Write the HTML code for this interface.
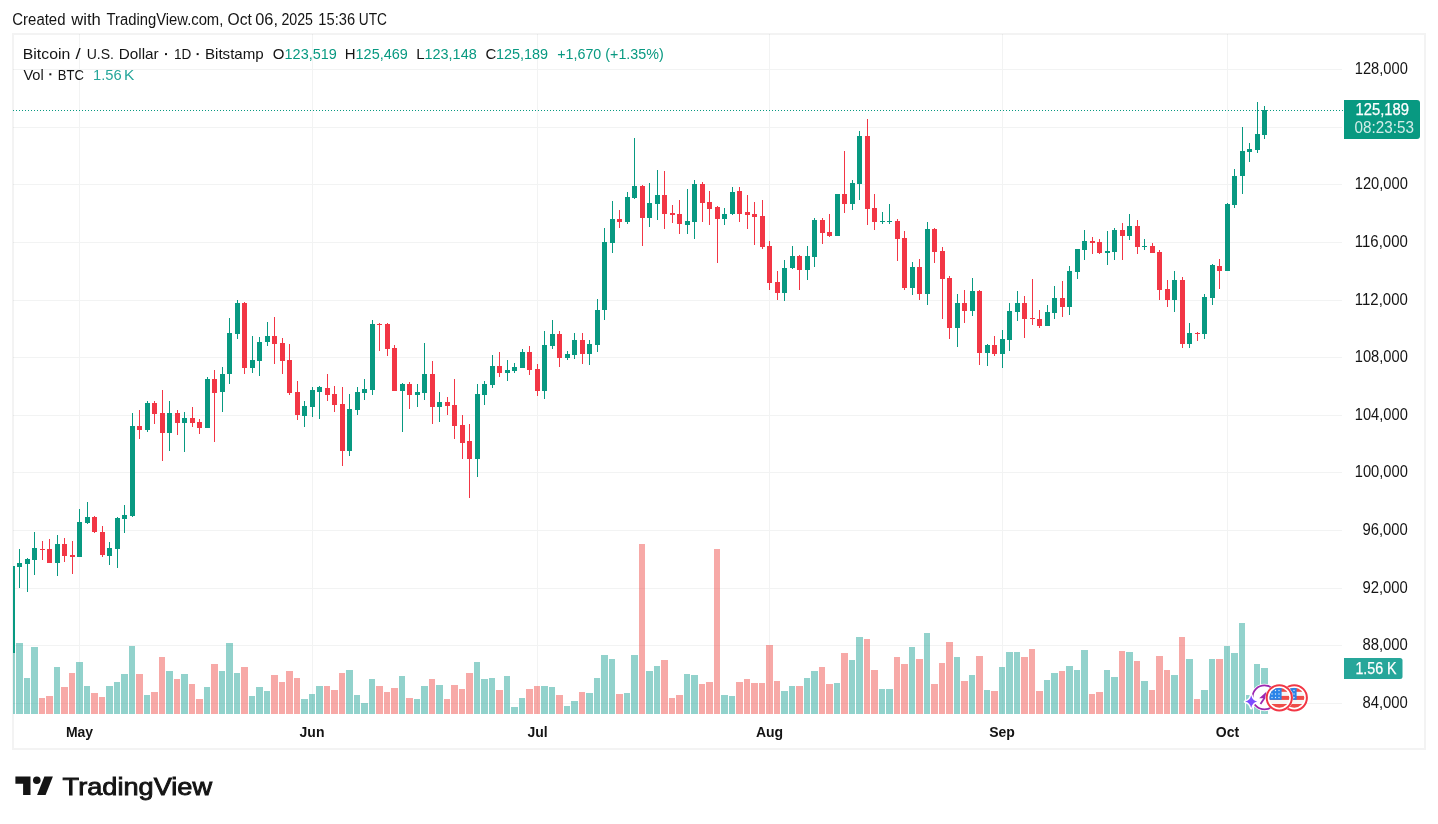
<!DOCTYPE html>
<html><head><meta charset="utf-8"><style>
html,body{margin:0;padding:0;background:#fff;}
body{width:1438px;height:824px;overflow:hidden;position:relative;font-family:"Liberation Sans", sans-serif;}
</style></head><body>
<svg width="1438" height="824" viewBox="0 0 1438 824" style="position:absolute;left:0;top:0" shape-rendering="crispEdges">
<defs><clipPath id="cp"><rect x="13" y="34" width="1329" height="680"/></clipPath></defs>
<rect x="13" y="34" width="1412" height="715" fill="none" stroke="#f3f3f3" stroke-width="2"/>
<path d="M13 69.5H1342M13 127.5H1342M13 184.5H1342M13 242.5H1342M13 300.5H1342M13 357.5H1342M13 415.5H1342M13 472.5H1342M13 530.5H1342M13 588.5H1342M13 645.5H1342M13 703.5H1342M79.5 34V714M312.5 34V714M537.5 34V714M769.5 34V714M1002.5 34V714M1227.5 34V714" stroke="rgba(42,46,57,0.06)" stroke-width="1" fill="none"/>
<g clip-path="url(#cp)">
<path d="M9 653H15V714H9ZM16 643H23V714H16ZM24 678H30V714H24ZM31 647H38V714H31ZM54 667H60V714H54ZM76 662H83V714H76ZM84 686H90V714H84ZM106 686H113V714H106ZM114 682H120V714H114ZM121 674H128V714H121ZM129 646H135V714H129ZM144 695H150V714H144ZM166 671H173V714H166ZM181 674H188V714H181ZM204 687H210V714H204ZM219 671H225V714H219ZM226 643H233V714H226ZM234 673H240V714H234ZM249 696H255V714H249ZM256 687H263V714H256ZM264 691H270V714H264ZM301 699H308V714H301ZM309 694H315V714H309ZM316 686H323V714H316ZM346 670H353V714H346ZM354 695H360V714H354ZM361 703H368V714H361ZM369 679H375V714H369ZM399 676H405V714H399ZM414 699H420V714H414ZM421 686H428V714H421ZM436 685H443V714H436ZM474 662H480V714H474ZM481 679H488V714H481ZM489 678H495V714H489ZM504 676H510V714H504ZM511 707H518V714H511ZM519 698H525V714H519ZM541 686H548V714H541ZM549 687H555V714H549ZM564 706H570V714H564ZM571 701H578V714H571ZM586 693H593V714H586ZM594 678H600V714H594ZM601 655H608V714H601ZM609 659H615V714H609ZM624 693H630V714H624ZM631 655H638V714H631ZM646 671H653V714H646ZM654 666H660V714H654ZM684 674H690V714H684ZM691 675H698V714H691ZM721 695H728V714H721ZM729 696H735V714H729ZM781 691H788V714H781ZM789 686H795V714H789ZM804 678H810V714H804ZM811 671H818V714H811ZM834 683H840V714H834ZM849 660H855V714H849ZM856 637H863V714H856ZM879 689H885V714H879ZM886 689H893V714H886ZM909 647H915V714H909ZM924 633H930V714H924ZM954 657H960V714H954ZM969 675H975V714H969ZM984 690H990V714H984ZM999 667H1005V714H999ZM1006 652H1013V714H1006ZM1014 652H1020V714H1014ZM1044 680H1050V714H1044ZM1051 673H1058V714H1051ZM1066 666H1073V714H1066ZM1074 670H1080V714H1074ZM1081 650H1088V714H1081ZM1104 670H1110V714H1104ZM1111 677H1118V714H1111ZM1126 652H1133V714H1126ZM1141 681H1148V714H1141ZM1171 675H1178V714H1171ZM1186 659H1193V714H1186ZM1201 690H1208V714H1201ZM1209 659H1215V714H1209ZM1224 646H1230V714H1224ZM1231 653H1238V714H1231ZM1239 623H1245V714H1239ZM1246 695H1253V714H1246ZM1254 664H1260V714H1254ZM1261 668H1268V714H1261Z" fill="rgba(38,166,154,0.5)"/>
<path d="M39 698H45V714H39ZM46 696H53V714H46ZM61 687H68V714H61ZM69 673H75V714H69ZM91 693H98V714H91ZM99 697H105V714H99ZM136 674H143V714H136ZM151 692H158V714H151ZM159 657H165V714H159ZM174 679H180V714H174ZM189 684H195V714H189ZM196 699H203V714H196ZM211 664H218V714H211ZM241 667H248V714H241ZM271 675H278V714H271ZM279 682H285V714H279ZM286 671H293V714H286ZM294 678H300V714H294ZM324 686H330V714H324ZM331 690H338V714H331ZM339 673H345V714H339ZM376 686H383V714H376ZM384 692H390V714H384ZM391 688H398V714H391ZM406 698H413V714H406ZM429 679H435V714H429ZM444 699H450V714H444ZM451 685H458V714H451ZM459 689H465V714H459ZM466 673H473V714H466ZM496 690H503V714H496ZM526 689H533V714H526ZM534 686H540V714H534ZM556 695H563V714H556ZM579 692H585V714H579ZM616 694H623V714H616ZM639 544H645V714H639ZM661 660H668V714H661ZM669 698H675V714H669ZM676 695H683V714H676ZM699 684H705V714H699ZM706 682H713V714H706ZM714 549H720V714H714ZM736 682H743V714H736ZM744 679H750V714H744ZM751 683H758V714H751ZM759 683H765V714H759ZM766 645H773V714H766ZM774 681H780V714H774ZM796 686H803V714H796ZM819 667H825V714H819ZM826 684H833V714H826ZM841 653H848V714H841ZM864 639H870V714H864ZM871 670H878V714H871ZM894 657H900V714H894ZM901 664H908V714H901ZM916 659H923V714H916ZM931 684H938V714H931ZM939 663H945V714H939ZM946 642H953V714H946ZM961 681H968V714H961ZM976 656H983V714H976ZM991 691H998V714H991ZM1021 657H1028V714H1021ZM1029 649H1035V714H1029ZM1036 691H1043V714H1036ZM1059 671H1065V714H1059ZM1089 694H1095V714H1089ZM1096 692H1103V714H1096ZM1119 651H1125V714H1119ZM1134 661H1140V714H1134ZM1149 690H1155V714H1149ZM1156 656H1163V714H1156ZM1164 670H1170V714H1164ZM1179 637H1185V714H1179ZM1194 699H1200V714H1194ZM1216 659H1223V714H1216Z" fill="rgba(239,83,80,0.5)"/>
<path d="M10 566H15V653H10ZM17 563H22V567H17ZM19 549H20V563H19ZM19 567H20V588H19ZM25 559H30V564H25ZM27 558H28V559H27ZM27 564H28V592H27ZM32 548H37V560H32ZM34 532H35V548H34ZM34 560H35V575H34ZM55 544H60V563H55ZM57 535H58V544H57ZM57 563H58V576H57ZM77 522H82V557H77ZM79 509H80V522H79ZM85 517H90V523H85ZM87 502H88V517H87ZM87 523H88V524H87ZM107 548H112V556H107ZM109 542H110V548H109ZM109 556H110V565H109ZM115 518H120V549H115ZM117 517H118V518H117ZM117 549H118V568H117ZM122 515H127V519H122ZM124 505H125V515H124ZM124 519H125V533H124ZM130 426H135V516H130ZM132 413H133V426H132ZM132 516H133V517H132ZM145 403H150V430H145ZM147 401H148V403H147ZM147 430H148V432H147ZM167 413H172V433H167ZM169 401H170V413H169ZM169 433H170V451H169ZM182 418H187V423H182ZM184 412H185V418H184ZM184 423H185V452H184ZM205 379H210V428H205ZM207 377H208V379H207ZM220 374H225V392H220ZM222 367H223V374H222ZM222 392H223V412H222ZM227 333H232V374H227ZM229 318H230V333H229ZM229 374H230V384H229ZM235 303H240V334H235ZM237 300H238V303H237ZM237 334H238V339H237ZM250 360H255V368H250ZM252 336H253V360H252ZM252 368H253V373H252ZM257 342H262V361H257ZM259 337H260V342H259ZM259 361H260V376H259ZM265 336H270V342H265ZM267 322H268V336H267ZM267 342H268V346H267ZM302 406H307V416H302ZM304 401H305V406H304ZM304 416H305V427H304ZM310 390H315V407H310ZM312 387H313V390H312ZM312 407H313V417H312ZM317 387H322V392H317ZM319 386H320V387H319ZM319 392H320V419H319ZM347 409H352V451H347ZM349 394H350V409H349ZM349 451H350V456H349ZM355 392H360V410H355ZM357 387H358V392H357ZM357 410H358V415H357ZM362 389H367V393H362ZM364 379H365V389H364ZM364 393H365V400H364ZM370 324H375V390H370ZM372 320H373V324H372ZM372 390H373V395H372ZM400 384H405V391H400ZM402 383H403V384H402ZM402 391H403V432H402ZM415 392H420V395H415ZM417 384H418V392H417ZM417 395H418V407H417ZM422 374H427V393H422ZM424 343H425V374H424ZM424 393H425V400H424ZM437 402H442V407H437ZM439 392H440V402H439ZM439 407H440V422H439ZM475 394H480V459H475ZM477 384H478V394H477ZM477 459H478V477H477ZM482 384H487V395H482ZM484 381H485V384H484ZM484 395H485V405H484ZM490 366H495V385H490ZM492 355H493V366H492ZM492 385H493V388H492ZM505 370H510V373H505ZM507 360H508V370H507ZM507 373H508V381H507ZM512 367H517V371H512ZM514 363H515V367H514ZM514 371H515V373H514ZM520 352H525V368H520ZM522 349H523V352H522ZM542 345H547V391H542ZM544 331H545V345H544ZM544 391H545V399H544ZM550 334H555V346H550ZM552 320H553V334H552ZM552 346H553V349H552ZM565 354H570V358H565ZM567 351H568V354H567ZM567 358H568V360H567ZM572 340H577V355H572ZM574 333H575V340H574ZM574 355H575V359H574ZM587 344H592V354H587ZM589 340H590V344H589ZM589 354H590V365H589ZM595 310H600V345H595ZM597 299H598V310H597ZM597 345H598V352H597ZM602 242H607V310H602ZM604 228H605V242H604ZM604 310H605V320H604ZM610 219H615V243H610ZM612 201H613V219H612ZM612 243H613V253H612ZM625 197H630V222H625ZM627 192H628V197H627ZM627 222H628V224H627ZM632 186H637V198H632ZM634 138H635V186H634ZM634 198H635V199H634ZM647 203H652V218H647ZM649 183H650V203H649ZM649 218H650V227H649ZM655 195H660V204H655ZM657 170H658V195H657ZM657 204H658V220H657ZM685 221H690V225H685ZM687 189H688V221H687ZM687 225H688V234H687ZM692 184H697V222H692ZM694 180H695V184H694ZM694 222H695V239H694ZM722 214H727V219H722ZM724 208H725V214H724ZM724 219H725V225H724ZM730 192H735V214H730ZM732 187H733V192H732ZM732 214H733V215H732ZM782 268H787V293H782ZM784 260H785V268H784ZM784 293H785V301H784ZM790 256H795V268H790ZM792 246H793V256H792ZM792 268H793V269H792ZM805 256H810V270H805ZM807 246H808V256H807ZM807 270H808V280H807ZM812 220H817V257H812ZM814 218H815V220H814ZM814 257H815V267H814ZM835 194H840V236H835ZM850 183H855V204H850ZM852 180H853V183H852ZM852 204H853V210H852ZM857 136H862V184H857ZM859 131H860V136H859ZM859 184H860V200H859ZM880 221H885V222H880ZM882 212H883V221H882ZM882 222H883V224H882ZM887 221H892V222H887ZM889 204H890V221H889ZM889 222H890V224H889ZM910 267H915V288H910ZM912 262H913V267H912ZM912 288H913V295H912ZM925 229H930V294H925ZM927 222H928V229H927ZM927 294H928V305H927ZM955 303H960V328H955ZM957 294H958V303H957ZM957 328H958V347H957ZM970 291H975V311H970ZM972 278H973V291H972ZM972 311H973V316H972ZM985 345H990V353H985ZM987 344H988V345H987ZM987 353H988V366H987ZM1000 339H1005V354H1000ZM1002 330H1003V339H1002ZM1002 354H1003V368H1002ZM1007 311H1012V340H1007ZM1009 303H1010V311H1009ZM1009 340H1010V351H1009ZM1015 303H1020V312H1015ZM1017 291H1018V303H1017ZM1017 312H1018V321H1017ZM1045 312H1050V326H1045ZM1047 305H1048V312H1047ZM1052 298H1057V313H1052ZM1054 286H1055V298H1054ZM1054 313H1055V319H1054ZM1067 271H1072V307H1067ZM1069 266H1070V271H1069ZM1069 307H1070V315H1069ZM1075 249H1080V272H1075ZM1077 272H1078V279H1077ZM1082 241H1087V250H1082ZM1084 230H1085V241H1084ZM1084 250H1085V260H1084ZM1105 251H1110V253H1105ZM1107 231H1108V251H1107ZM1107 253H1108V265H1107ZM1112 230H1117V252H1112ZM1114 228H1115V230H1114ZM1114 252H1115V260H1114ZM1127 226H1132V236H1127ZM1129 214H1130V226H1129ZM1129 236H1130V240H1129ZM1142 246H1147V247H1142ZM1144 239H1145V246H1144ZM1144 247H1145V250H1144ZM1172 280H1177V300H1172ZM1174 271H1175V280H1174ZM1174 300H1175V312H1174ZM1187 333H1192V344H1187ZM1189 323H1190V333H1189ZM1189 344H1190V348H1189ZM1202 297H1207V334H1202ZM1204 294H1205V297H1204ZM1204 334H1205V339H1204ZM1210 265H1215V298H1210ZM1212 264H1213V265H1212ZM1212 298H1213V305H1212ZM1225 204H1230V271H1225ZM1227 203H1228V204H1227ZM1232 176H1237V205H1232ZM1234 169H1235V176H1234ZM1234 205H1235V208H1234ZM1240 151H1245V176H1240ZM1242 127H1243V151H1242ZM1242 176H1243V194H1242ZM1247 149H1252V152H1247ZM1249 143H1250V149H1249ZM1249 152H1250V162H1249ZM1255 134H1260V150H1255ZM1257 102H1258V134H1257ZM1257 150H1258V153H1257ZM1262 110H1267V135H1262ZM1264 106H1265V110H1264ZM1264 135H1265V139H1264Z" fill="#089981"/>
<path d="M40 549H45V550H40ZM42 541H43V549H42ZM42 550H43V560H42ZM47 549H52V563H47ZM49 539H50V549H49ZM62 544H67V556H62ZM64 538H65V544H64ZM64 556H65V562H64ZM70 555H75V557H70ZM72 541H73V555H72ZM72 557H73V574H72ZM92 517H97V532H92ZM94 516H95V517H94ZM94 532H95V533H94ZM100 532H105V555H100ZM102 526H103V532H102ZM102 555H103V557H102ZM137 426H142V430H137ZM139 410H140V426H139ZM139 430H140V439H139ZM152 403H157V414H152ZM154 401H155V403H154ZM154 414H155V424H154ZM160 413H165V433H160ZM162 390H163V413H162ZM162 433H163V461H162ZM175 413H180V423H175ZM177 410H178V413H177ZM177 423H178V435H177ZM190 418H195V423H190ZM192 407H193V418H192ZM192 423H193V427H192ZM197 422H202V428H197ZM199 419H200V422H199ZM199 428H200V434H199ZM212 379H217V393H212ZM214 370H215V379H214ZM214 393H215V442H214ZM242 303H247V368H242ZM244 302H245V303H244ZM244 368H245V374H244ZM272 336H277V344H272ZM274 317H275V336H274ZM274 344H275V364H274ZM280 343H285V361H280ZM282 338H283V343H282ZM282 361H283V374H282ZM287 360H292V393H287ZM289 344H290V360H289ZM289 393H290V395H289ZM295 392H300V415H295ZM297 381H298V392H297ZM297 415H298V420H297ZM325 388H330V395H325ZM327 374H328V388H327ZM327 395H328V401H327ZM332 394H337V405H332ZM334 386H335V394H334ZM334 405H335V412H334ZM340 404H345V451H340ZM342 387H343V404H342ZM342 451H343V466H342ZM377 324H382V325H377ZM379 323H380V324H379ZM379 325H380V351H379ZM385 324H390V349H385ZM387 323H388V324H387ZM387 349H388V356H387ZM392 348H397V391H392ZM394 345H395V348H394ZM407 384H412V395H407ZM409 382H410V384H409ZM409 395H410V409H409ZM430 374H435V407H430ZM432 361H433V374H432ZM432 407H433V424H432ZM445 402H450V406H445ZM447 397H448V402H447ZM447 406H448V415H447ZM452 405H457V426H452ZM454 379H455V405H454ZM454 426H455V439H454ZM460 425H465V443H460ZM462 415H463V425H462ZM462 443H463V459H462ZM467 441H472V459H467ZM469 424H470V441H469ZM469 459H470V498H469ZM497 366H502V373H497ZM499 352H500V366H499ZM499 373H500V377H499ZM527 352H532V370H527ZM529 346H530V352H529ZM529 370H530V375H529ZM535 369H540V391H535ZM537 364H538V369H537ZM537 391H538V396H537ZM557 334H562V358H557ZM559 331H560V334H559ZM559 358H560V367H559ZM580 340H585V354H580ZM582 333H583V340H582ZM582 354H583V364H582ZM617 219H622V222H617ZM619 210H620V219H619ZM619 222H620V228H619ZM640 186H645V218H640ZM642 185H643V186H642ZM642 218H643V246H642ZM662 195H667V214H662ZM664 171H665V195H664ZM664 214H665V229H664ZM670 213H675V215H670ZM672 205H673V213H672ZM672 215H673V223H672ZM677 214H682V224H677ZM679 200H680V214H679ZM679 224H680V234H679ZM700 184H705V203H700ZM702 182H703V184H702ZM702 203H703V222H702ZM707 202H712V209H707ZM709 191H710V202H709ZM709 209H710V225H709ZM715 207H720V219H715ZM717 206H718V207H717ZM717 219H718V263H717ZM737 191H742V214H737ZM739 187H740V191H739ZM739 214H740V222H739ZM745 212H750V215H745ZM747 195H748V212H747ZM747 215H748V229H747ZM752 214H757V217H752ZM754 202H755V214H754ZM754 217H755V245H754ZM760 216H765V247H760ZM762 200H763V216H762ZM762 247H763V249H762ZM767 246H772V283H767ZM769 241H770V246H769ZM769 283H770V290H769ZM775 282H780V293H775ZM777 271H778V282H777ZM777 293H778V300H777ZM797 256H802V270H797ZM799 255H800V256H799ZM799 270H800V290H799ZM820 220H825V233H820ZM822 218H823V220H822ZM822 233H823V244H822ZM827 232H832V236H827ZM829 214H830V232H829ZM829 236H830V237H829ZM842 194H847V204H842ZM844 151H845V194H844ZM844 204H845V213H844ZM865 136H870V209H865ZM867 119H868V136H867ZM867 209H868V225H867ZM872 208H877V222H872ZM874 194H875V208H874ZM874 222H875V230H874ZM895 221H900V239H895ZM897 219H898V221H897ZM897 239H898V261H897ZM902 238H907V288H902ZM904 231H905V238H904ZM904 288H905V290H904ZM917 267H922V294H917ZM919 259H920V267H919ZM919 294H920V300H919ZM932 229H937V252H932ZM934 228H935V229H934ZM934 252H935V263H934ZM940 251H945V279H940ZM942 247H943V251H942ZM942 279H943V319H942ZM947 278H952V328H947ZM949 276H950V278H949ZM949 328H950V339H949ZM962 303H967V311H962ZM964 290H965V303H964ZM964 311H965V323H964ZM977 291H982V353H977ZM979 290H980V291H979ZM979 353H980V365H979ZM992 345H997V354H992ZM994 336H995V345H994ZM994 354H995V356H994ZM1022 303H1027V319H1022ZM1024 296H1025V303H1024ZM1024 319H1025V338H1024ZM1030 318H1035V319H1030ZM1032 279H1033V318H1032ZM1032 319H1033V325H1032ZM1037 319H1042V326H1037ZM1039 310H1040V319H1039ZM1039 326H1040V328H1039ZM1060 298H1065V307H1060ZM1062 281H1063V298H1062ZM1062 307H1063V317H1062ZM1090 241H1095V243H1090ZM1092 237H1093V241H1092ZM1092 243H1093V254H1092ZM1097 242H1102V253H1097ZM1099 239H1100V242H1099ZM1099 253H1100V254H1099ZM1120 230H1125V236H1120ZM1122 223H1123V230H1122ZM1122 236H1123V260H1122ZM1135 226H1140V247H1135ZM1137 220H1138V226H1137ZM1137 247H1138V254H1137ZM1150 246H1155V253H1150ZM1152 243H1153V246H1152ZM1157 252H1162V290H1157ZM1159 250H1160V252H1159ZM1159 290H1160V300H1159ZM1165 289H1170V300H1165ZM1167 280H1168V289H1167ZM1167 300H1168V307H1167ZM1180 280H1185V344H1180ZM1182 277H1183V280H1182ZM1182 344H1183V348H1182ZM1195 333H1200V334H1195ZM1197 332H1198V333H1197ZM1197 334H1198V341H1197ZM1217 266H1222V271H1217ZM1219 259H1220V266H1219ZM1219 271H1220V289H1219Z" fill="#f23645"/>
</g>
<path d="M13 110.5H1344" stroke="#089981" stroke-width="1" stroke-dasharray="1 2" fill="none"/>
</svg>
<svg width="1438" height="824" viewBox="0 0 1438 824" style="position:absolute;left:0;top:0;will-change:transform" font-family='"Liberation Sans", sans-serif'>
<text x="12.34" y="25" font-size="15.6" fill="#141414" textLength="53.12" lengthAdjust="spacingAndGlyphs">Created</text>
<text x="71.3" y="25" font-size="15.6" fill="#141414" textLength="29.58" lengthAdjust="spacingAndGlyphs">with</text>
<text x="106.5" y="25" font-size="15.6" fill="#141414" textLength="116.82" lengthAdjust="spacingAndGlyphs">TradingView.com,</text>
<text x="227.5" y="25" font-size="15.6" fill="#141414" textLength="24.27" lengthAdjust="spacingAndGlyphs">Oct</text>
<text x="255.25" y="25" font-size="15.6" fill="#141414" textLength="22.71" lengthAdjust="spacingAndGlyphs">06,</text>
<text x="281.39" y="25" font-size="15.6" fill="#141414" textLength="31.65" lengthAdjust="spacingAndGlyphs">2025</text>
<text x="318.36" y="25" font-size="15.6" fill="#141414" textLength="36.71" lengthAdjust="spacingAndGlyphs">15:36</text>
<text x="358.82" y="25" font-size="15.6" fill="#141414" textLength="28.22" lengthAdjust="spacingAndGlyphs">UTC</text>
<text x="22.85" y="59" font-size="15" fill="#141414" textLength="47.34" lengthAdjust="spacingAndGlyphs">Bitcoin</text>
<text x="75.4" y="59" font-size="15" fill="#141414" textLength="5.21" lengthAdjust="spacingAndGlyphs">/</text>
<text x="86.66" y="59" font-size="15" fill="#141414" textLength="27.35" lengthAdjust="spacingAndGlyphs">U.S.</text>
<text x="118.68" y="59" font-size="15" fill="#141414" textLength="40.01" lengthAdjust="spacingAndGlyphs">Dollar</text>
<rect x="165.00" y="53.1" width="2" height="2" fill="#141414"/>
<text x="173.89" y="59" font-size="15" fill="#141414" textLength="17.38" lengthAdjust="spacingAndGlyphs">1D</text>
<rect x="196.65" y="53.1" width="2" height="2" fill="#141414"/>
<text x="204.99" y="59" font-size="15" fill="#141414" textLength="58.77" lengthAdjust="spacingAndGlyphs">Bitstamp</text>
<text x="272.8" y="59" font-size="15" fill="#141414">O</text>
<text x="284.6" y="59" font-size="15" fill="#089981" textLength="52.2" lengthAdjust="spacingAndGlyphs">123,519</text>
<text x="344.8" y="59" font-size="15" fill="#141414">H</text>
<text x="355.6" y="59" font-size="15" fill="#089981" textLength="52.2" lengthAdjust="spacingAndGlyphs">125,469</text>
<text x="416.2" y="59" font-size="15" fill="#141414">L</text>
<text x="424.5" y="59" font-size="15" fill="#089981" textLength="52.2" lengthAdjust="spacingAndGlyphs">123,148</text>
<text x="485.6" y="59" font-size="15" fill="#141414">C</text>
<text x="495.9" y="59" font-size="15" fill="#089981" textLength="52.2" lengthAdjust="spacingAndGlyphs">125,189</text>
<text x="557.2" y="59" font-size="15" fill="#089981" textLength="106.5" lengthAdjust="spacingAndGlyphs">+1,670 (+1.35%)</text>
<text x="23.4" y="79.8" font-size="15" fill="#141414" textLength="20.34" lengthAdjust="spacingAndGlyphs">Vol</text>
<text x="57.83" y="79.8" font-size="15" fill="#141414" textLength="26.14" lengthAdjust="spacingAndGlyphs">BTC</text>
<text x="93.02" y="79.8" font-size="15" fill="#26a69a" textLength="28.68" lengthAdjust="spacingAndGlyphs">1.56</text>
<text x="124.07" y="79.8" font-size="15" fill="#26a69a" textLength="10.27" lengthAdjust="spacingAndGlyphs">K</text>
<rect x="49.35" y="73.3" width="2" height="2" fill="#141414"/>
<text x="1354.8" y="73.8" font-size="15.6" fill="#141414" textLength="53" lengthAdjust="spacingAndGlyphs">128,000</text>
<text x="1354.8" y="188.8" font-size="15.6" fill="#141414" textLength="53" lengthAdjust="spacingAndGlyphs">120,000</text>
<text x="1354.8" y="246.8" font-size="15.6" fill="#141414" textLength="53" lengthAdjust="spacingAndGlyphs">116,000</text>
<text x="1354.8" y="304.8" font-size="15.6" fill="#141414" textLength="53" lengthAdjust="spacingAndGlyphs">112,000</text>
<text x="1354.8" y="361.8" font-size="15.6" fill="#141414" textLength="53" lengthAdjust="spacingAndGlyphs">108,000</text>
<text x="1354.8" y="419.8" font-size="15.6" fill="#141414" textLength="53" lengthAdjust="spacingAndGlyphs">104,000</text>
<text x="1354.8" y="476.8" font-size="15.6" fill="#141414" textLength="53" lengthAdjust="spacingAndGlyphs">100,000</text>
<text x="1362.3999999999999" y="534.8" font-size="15.6" fill="#141414" textLength="45.4" lengthAdjust="spacingAndGlyphs">96,000</text>
<text x="1362.3999999999999" y="592.8" font-size="15.6" fill="#141414" textLength="45.4" lengthAdjust="spacingAndGlyphs">92,000</text>
<text x="1362.3999999999999" y="649.8" font-size="15.6" fill="#141414" textLength="45.4" lengthAdjust="spacingAndGlyphs">88,000</text>
<text x="1362.3999999999999" y="707.8" font-size="15.6" fill="#141414" textLength="45.4" lengthAdjust="spacingAndGlyphs">84,000</text>
<path d="M1344 100H1417Q1420 100 1420 103V136Q1420 139 1417 139H1344Z" fill="#089981"/>
<text x="1355.5" y="115.2" font-size="15.6" fill="#fff" textLength="53.4" lengthAdjust="spacingAndGlyphs" stroke="#fff" stroke-width="0.25">125,189</text>
<text x="1354.6" y="132.6" font-size="15.6" fill="#fff" textLength="59.3" lengthAdjust="spacingAndGlyphs" fill-opacity="0.82">08:23:53</text>
<path d="M1344 658H1400Q1402.5 658 1402.5 660.5V676.5Q1402.5 679 1400 679H1344Z" fill="#26a69a"/>
<text x="1355.4" y="674" font-size="15.6" fill="#fff" textLength="41.2" lengthAdjust="spacingAndGlyphs" stroke="#fff" stroke-width="0.25">1.56 K</text>
<text x="79.5" y="736.8" font-size="15" font-weight="bold" fill="#141414" text-anchor="middle" textLength="27.23" lengthAdjust="spacingAndGlyphs">May</text>
<text x="312" y="736.8" font-size="15" font-weight="bold" fill="#141414" text-anchor="middle" textLength="24.89" lengthAdjust="spacingAndGlyphs">Jun</text>
<text x="537.5" y="736.8" font-size="15" font-weight="bold" fill="#141414" text-anchor="middle" textLength="20.23" lengthAdjust="spacingAndGlyphs">Jul</text>
<text x="769.5" y="736.8" font-size="15" font-weight="bold" fill="#141414" text-anchor="middle" textLength="27.22" lengthAdjust="spacingAndGlyphs">Aug</text>
<text x="1002" y="736.8" font-size="15" font-weight="bold" fill="#141414" text-anchor="middle" textLength="25.69" lengthAdjust="spacingAndGlyphs">Sep</text>
<text x="1227.5" y="736.8" font-size="15" font-weight="bold" fill="#141414" text-anchor="middle" textLength="23.34" lengthAdjust="spacingAndGlyphs">Oct</text>
<g fill="#141414"><path d="M15.4 776.5H30.5V794.9H23.1V783.7H15.4Z"/><circle cx="36.8" cy="780.2" r="3.8"/><path d="M44.4 776.5H52.9L45.6 794.9H37.1Z"/></g>
<text x="62.6" y="794.5" font-size="24.6" fill="#141414" stroke="#141414" stroke-width="0.9" textLength="149.4" lengthAdjust="spacingAndGlyphs">TradingView</text>
<defs><clipPath id="fc1"><circle cx="1279.3" cy="697.8" r="10"/></clipPath><clipPath id="fc2"><circle cx="1294.3" cy="697.8" r="10"/></clipPath></defs>
<g shape-rendering="geometricPrecision">
<circle cx="1264.5" cy="697.4" r="12" fill="#fff" stroke="#fff" stroke-width="3.5"/>
<circle cx="1264.5" cy="697.4" r="12" fill="#fff" stroke="#9c27b0" stroke-width="1.8"/>
<path d="M1266.6 691.6L1259.2 698.2H1265.7Z" fill="#9c27b0"/><path d="M1265.3 696.8L1260.5 704" fill="none" stroke="#9c27b0" stroke-width="1.8"/>
<circle cx="1294.3" cy="697.8" r="12.6" fill="#fff" stroke="#f23645" stroke-width="2"/>
<g clip-path="url(#fc2)"><rect x="1284.3" y="687.8" width="21" height="21" fill="#f5f5f5"/>
<rect x="1284.3" y="687.8" width="21" height="4" fill="#ef4c48"/><rect x="1284.3" y="695.9" width="21" height="4" fill="#ef4c48"/><rect x="1284.3" y="704" width="21" height="4" fill="#ef4c48"/>
<rect x="1284.3" y="687.8" width="12.3" height="12" fill="#2a84e8"/>
<g fill="#fff" opacity="0.85"><circle cx="1287" cy="690.5" r="0.7"/><circle cx="1290.5" cy="690.5" r="0.7"/><circle cx="1294" cy="690.5" r="0.7"/><circle cx="1287" cy="694" r="0.7"/><circle cx="1290.5" cy="694" r="0.7"/><circle cx="1294" cy="694" r="0.7"/><circle cx="1287" cy="697.5" r="0.7"/><circle cx="1290.5" cy="697.5" r="0.7"/><circle cx="1294" cy="697.5" r="0.7"/></g></g>
<circle cx="1279.3" cy="697.8" r="13.6" fill="none" stroke="#fff" stroke-width="1"/>
<circle cx="1279.3" cy="697.8" r="12.6" fill="#fff" stroke="#f23645" stroke-width="2"/>
<g clip-path="url(#fc1)"><rect x="1269.3" y="687.8" width="21" height="21" fill="#f5f5f5"/>
<rect x="1269.3" y="687.8" width="21" height="4" fill="#ef4c48"/><rect x="1269.3" y="695.9" width="21" height="4" fill="#ef4c48"/><rect x="1269.3" y="704" width="21" height="4" fill="#ef4c48"/>
<rect x="1269.3" y="687.8" width="12.3" height="12" fill="#2a84e8"/>
<g fill="#fff" opacity="0.85"><circle cx="1272" cy="690.5" r="0.7"/><circle cx="1275.5" cy="690.5" r="0.7"/><circle cx="1279" cy="690.5" r="0.7"/><circle cx="1272" cy="694" r="0.7"/><circle cx="1275.5" cy="694" r="0.7"/><circle cx="1279" cy="694" r="0.7"/><circle cx="1272" cy="697.5" r="0.7"/><circle cx="1275.5" cy="697.5" r="0.7"/><circle cx="1279" cy="697.5" r="0.7"/></g></g>
<path d="M1251.2 695.2Q1252.3 700.4 1257.2 701.6Q1252.3 702.8 1251.2 708Q1250.1 702.8 1245.2 701.6Q1250.1 700.4 1251.2 695.2Z" fill="#fff" stroke="#fff" stroke-width="3" stroke-linejoin="round"/>
<path d="M1251.2 695.2Q1252.3 700.4 1257.2 701.6Q1252.3 702.8 1251.2 708Q1250.1 702.8 1245.2 701.6Q1250.1 700.4 1251.2 695.2Z" fill="#7c4dff"/>
</g>
</svg>
</body></html>
